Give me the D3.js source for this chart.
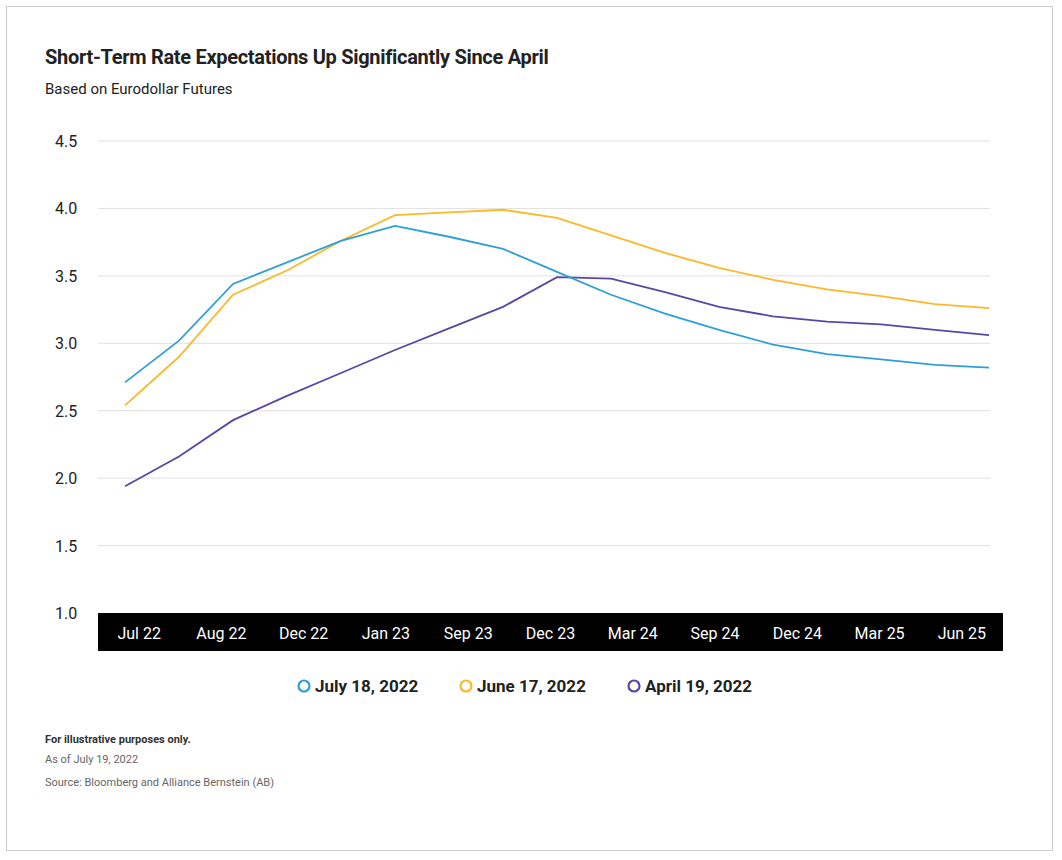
<!DOCTYPE html>
<html><head><meta charset="utf-8">
<script src="https://cdn.jsdelivr.net/npm/d3@7"></script>
<style>body{margin:0;background:#fff;font-family:Roboto,"Noto Sans",sans-serif}</style>
</head><body><svg id="chart" width="1062" height="860"></svg>
<script>
var tickLabels = ["Jul 22","Aug 22","Dec 22","Jan 23","Sep 23","Dec 23","Mar 24","Sep 24","Dec 24","Mar 25","Jun 25"];
var julyValues = [2.71,3.02,3.44,3.60,3.76,3.87,3.79,3.70,3.53,3.36,3.22,3.10,2.99,2.92,2.88,2.84,2.82];
var juneValues = [2.54,2.90,3.36,3.54,3.76,3.95,3.97,3.99,3.93,3.80,3.67,3.56,3.47,3.40,3.35,3.29,3.26];
var aprilValues = [1.94,2.16,2.43,2.61,2.78,2.95,3.11,3.27,3.49,3.48,3.38,3.27,3.20,3.16,3.14,3.10,3.06];
var seriesNames = ["July 18, 2022","June 17, 2022","April 19, 2022"];
var seriesColors = ["#2e9fd8","#fbb82b","#5b46a5"];
var yTicks = [1.0,1.5,2.0,2.5,3.0,3.5,4.0,4.5];

var svg = d3.select("#chart");
svg.append("rect").attr("x",6.5).attr("y",6.5).attr("width",1046).attr("height",844)
    .attr("fill","none").attr("stroke","#ccc");

svg.append("text").attr("x",45).attr("y",64).text("Short-Term Rate Expectations Up Significantly Since April")
    .attr("font-size",20).attr("font-weight",700).attr("fill","#222").attr("letter-spacing","-0.3");
svg.append("text").attr("x",45).attr("y",94).text("Based on Eurodollar Futures")
    .attr("font-size",15).attr("fill","#222");

var y = d3.scaleLinear().domain([1,4.5]).range([613,141]);
var x = d3.scaleLinear().domain([0,16]).range([125,989]);
var xb = d3.scaleBand().domain(tickLabels).range([98,1003]);

yTicks.forEach(function(t){
    if (t > 1) svg.append("line").attr("x1",98).attr("x2",990).attr("y1",y(t)).attr("y2",y(t))
        .attr("stroke","#e0e0e0");
    svg.append("text").attr("x",55).attr("y",y(t)+6).text(t.toFixed(1))
        .attr("font-size",16).attr("fill","#222");
});

svg.append("rect").attr("x",98).attr("y",613).attr("width",905).attr("height",38).attr("fill","#000");
tickLabels.forEach(function(l){
    svg.append("text").attr("x",xb(l)+xb.bandwidth()/2).attr("y",639).attr("text-anchor","middle")
        .text(l).attr("fill","#fff").attr("font-size",16);
});

var line = d3.line().x(function(d,i){return x(i);}).y(function(d){return y(d);});
[aprilValues, juneValues, julyValues].forEach(function(vals,k){
    var c = [seriesColors[2],seriesColors[1],seriesColors[0]][k];
    svg.append("path").datum(vals).attr("d",line).attr("fill","none").attr("stroke",c).attr("stroke-width",1.8);
});

var legendX = [304,466,634];
seriesNames.forEach(function(n,i){
    svg.append("circle").attr("cx",legendX[i]).attr("cy",686).attr("r",5.5)
        .attr("fill","none").attr("stroke",seriesColors[i]).attr("stroke-width",2.2);
    svg.append("text").attr("x",legendX[i]+11).attr("y",692).text(n)
        .attr("font-size",17).attr("font-weight",700).attr("fill","#222");
});

svg.append("text").attr("x",45).attr("y",743).text("For illustrative purposes only.")
    .attr("font-size",11).attr("font-weight",700).attr("fill","#333");
svg.append("text").attr("x",45).attr("y",763).text("As of July 19, 2022")
    .attr("font-size",11).attr("fill","#666");
svg.append("text").attr("x",45).attr("y",786).text("Source: Bloomberg and Alliance Bernstein (AB)")
    .attr("font-size",11).attr("fill","#666");
</script></body></html>
